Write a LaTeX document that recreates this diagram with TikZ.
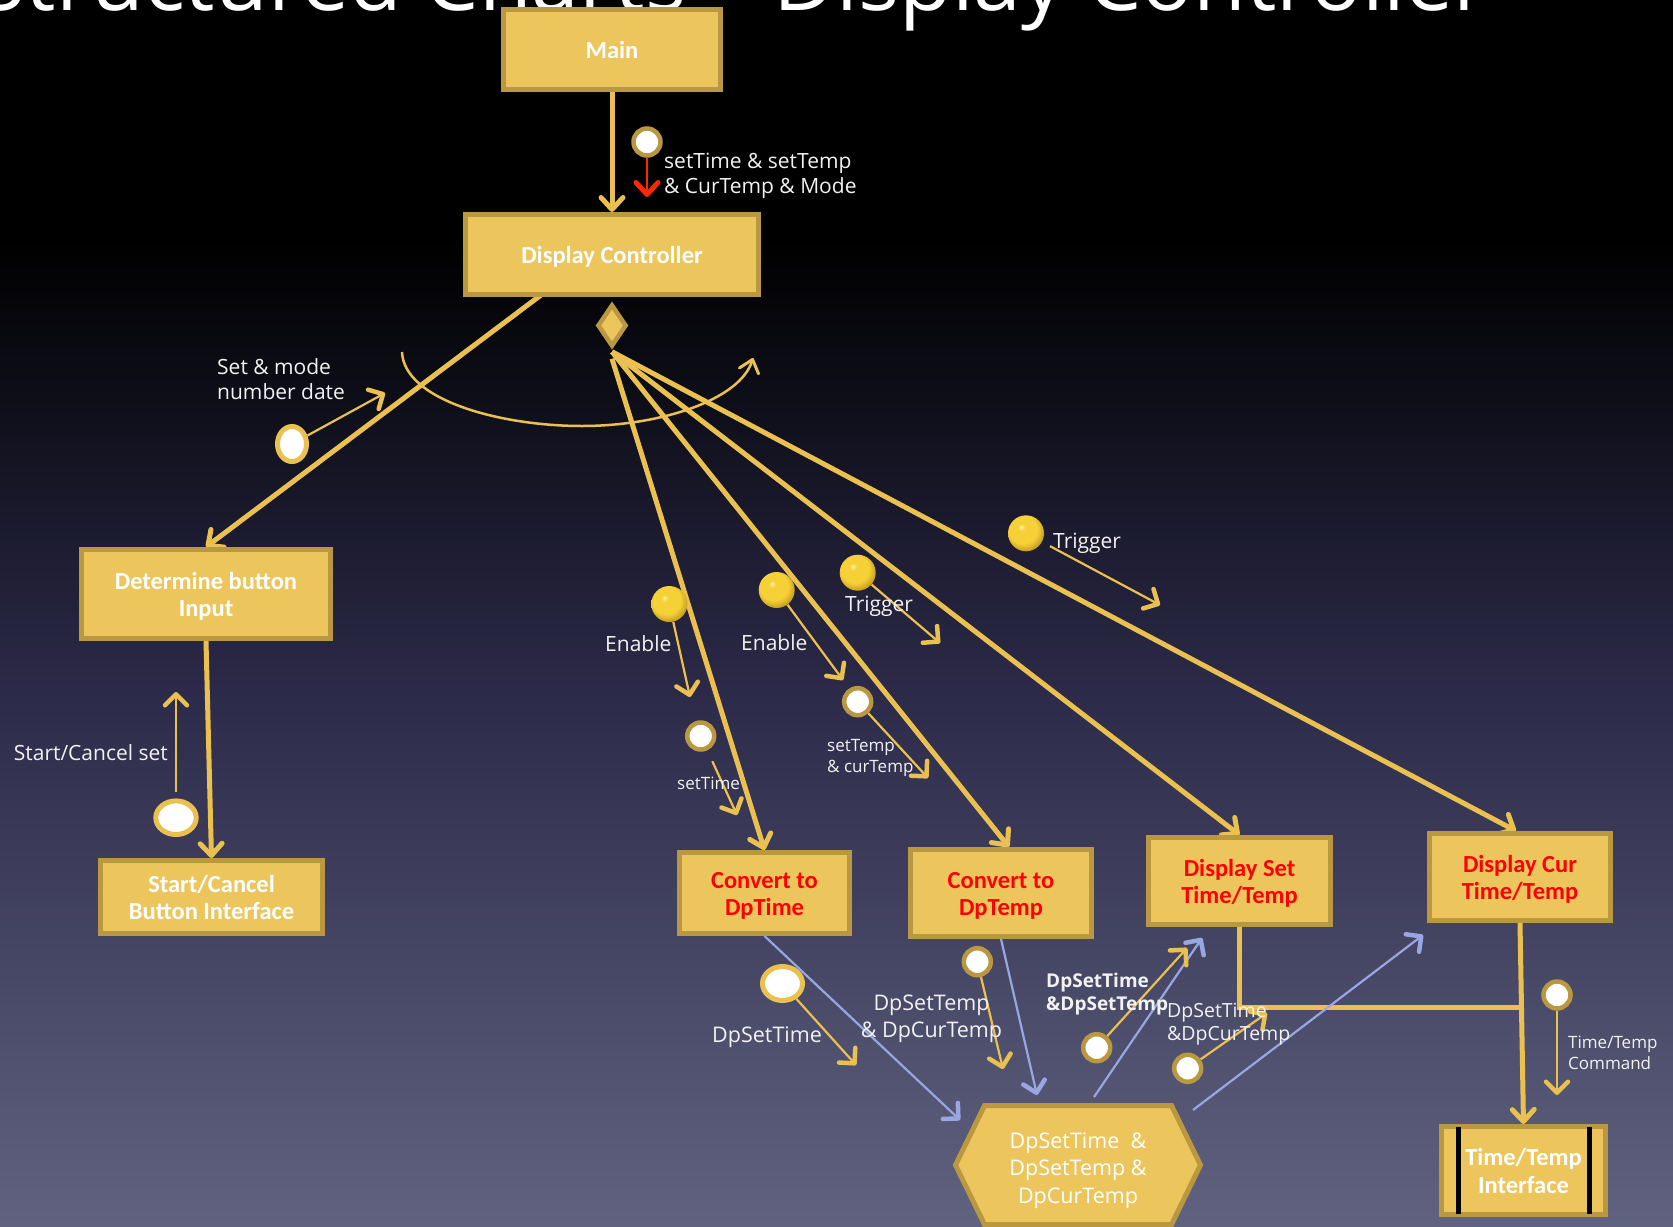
\documentclass[tikz,border=0pt]{standalone}
\usepackage{fontspec}
\setmainfont{Open Sans}
\newfontfamily\boxfont{Carlito}
\usetikzlibrary{arrows.meta,calc,shapes.geometric,shapes.symbols}

\definecolor{boxfill}{RGB}{236,198,92}
\definecolor{boxline}{RGB}{185,152,65}
\definecolor{gold}{RGB}{234,193,80}
\definecolor{lav}{RGB}{152,166,226}
\definecolor{flowred}{RGB}{255,40,0}
\definecolor{labelwhite}{RGB}{242,242,242}
\definecolor{bgA}{RGB}{0,0,0}
\definecolor{bgB}{RGB}{18,18,32}
\definecolor{bgC}{RGB}{45,43,74}
\definecolor{bgD}{RGB}{96,99,128}
\definecolor{ballhi}{RGB}{255,244,170}
\definecolor{ballmid}{RGB}{245,208,55}
\definecolor{balldark}{RGB}{190,150,25}

\pgfdeclareradialshading{goldball}{\pgfqpoint{-7bp}{9bp}}{color(0bp)=(ballhi); color(5bp)=(ballmid); color(20bp)=(ballmid); color(30bp)=(balldark); color(50bp)=(balldark)}

% line strut for module captions: fixes each caption line to 22.75pt above and 4.75pt below its baseline
\newcommand\bxs{\rule[-4.75pt]{0pt}{27.5pt}}

\pgfdeclarelayer{backdrop}
\pgfdeclarelayer{wires}
\pgfsetlayers{backdrop,wires,main}

\tikzset{
  box/.style={rectangle, draw=boxline, fill=boxfill, line width=5pt, text=white,
    inner sep=0pt, align=center, font=\boxfont\bfseries\fontsize{24.5}{27.5}\selectfont},
  redbox/.style={box, text=red},
  bigflow/.style={draw=gold, line width=5pt, -{Straight Barb[length=12pt,width=22pt,round]}},
  plainwire/.style={draw=gold, line width=5pt},
  flow/.style={draw=gold, line width=2.2pt, -{Straight Barb[line width=4.5pt,length=11pt,width=22pt,round]}},
  redflow/.style={draw=flowred, line width=2pt, -{Straight Barb[line width=5pt,length=12pt,width=22pt,round]}},
  lavflow/.style={draw=lav, line width=2.2pt, -{Straight Barb[line width=4.5pt,length=11pt,width=22pt,round]}},
  goldsphere/.style={circle, minimum size=36pt, inner sep=0pt, shading=goldball},
  dcircle/.style={circle, draw=boxline, line width=4.5pt, fill=white, minimum size=27pt, inner sep=0pt},
  doval/.style={ellipse, draw=gold, line width=5pt, fill=white, inner sep=0pt},
  lab/.style={text=labelwhite, inner sep=0pt, align=left, font=\fontsize{21}{25.5}\selectfont},
  smalllab/.style={text=labelwhite, inner sep=0pt, align=left, font=\fontsize{17}{21}\selectfont},
}

\begin{document}
\begin{tikzpicture}[x=1pt,y=-1pt]
\useasboundingbox (0,0) rectangle (1673,1226);

% backdrop: black sky fading to slate
\begin{pgfonlayer}{backdrop}
  \fill[bgA] (0,0) rectangle (1673,240);
  \shade[top color=bgA, bottom color=bgB] (0,239.5) rectangle (1673,440.5);
  \shade[top color=bgB, bottom color=bgC] (0,440) rectangle (1673,700.5);
  \shade[top color=bgC, bottom color=bgD] (0,700) rectangle (1673,1226);
  \node[anchor=base east, text=white, inner sep=0pt, font=\fontsize{86}{100}\selectfont] (title) at (1489,10) {Structured Charts – Display Controller};
\end{pgfonlayer}

% modules
\node[box, minimum width=217pt, minimum height=80pt] (main) at (612,49.5) {\bxs Main};
\node[box, minimum width=293pt, minimum height=80pt] (dc) at (612,254.5) {\bxs Display Controller};
\node[box, minimum width=249pt, minimum height=89pt] (det) at (206,594) {\bxs Determine button\\\bxs Input};
\node[box, minimum width=222pt, minimum height=73pt] (sc) at (211.5,897) {\bxs Start/Cancel\\\bxs Button Interface};
\node[redbox, minimum width=170pt, minimum height=81pt] (ctime) at (764.5,893) {\bxs Convert to\\\bxs DpTime};
\node[redbox, minimum width=181pt, minimum height=87pt] (ctemp) at (1001,893) {\bxs Convert to\\\bxs DpTemp};
\node[redbox, minimum width=182pt, minimum height=87pt] (dset) at (1239.5,881) {\bxs Display Set\\\bxs Time/Temp};
\node[redbox, minimum width=181pt, minimum height=87pt] (dcur) at (1520,877) {\bxs Display Cur\\\bxs Time/Temp};
\node[box, minimum width=164pt, minimum height=88pt] (tti) at (1523.5,1170.5) {\bxs Time/Temp\\\bxs Interface};
\draw[black, line width=5pt] ($(tti.center)+(-65.5,-43.5)$) -- ($(tti.center)+(-65.5,43.5)$);
\draw[black, line width=5pt] ($(tti.center)+(65.5,-43.5)$) -- ($(tti.center)+(65.5,43.5)$);

% selection diamond
\node[diamond, draw=boxline, fill=boxfill, line width=4.5pt, minimum width=29pt, minimum height=42pt, aspect=0.69, inner sep=0pt] (dia) at (612,325.5) {};

% shared data store
\node[signal, signal to=east and west, signal pointer angle=128, draw=boxline, fill=boxfill, line width=5pt,
      minimum width=245pt, minimum height=119pt, inner sep=0pt, align=center, text=white,
      font=\fontsize{21.5}{27.5}\selectfont] (hex) at (1078,1165) {\rule{0pt}{27pt}DpSetTime\ \ \&\\DpSetTemp \&\\DpCurTemp};

% couples: data (open) and control (filled)
\node[dcircle] (cmain) at (647,142) {};
\node[doval, minimum width=29pt, minimum height=35pt] (osm) at (292,444) {};
\node[doval, minimum width=40.4pt, minimum height=33.6pt] (osc) at (176,817.7) {};
\node[goldsphere] (en1) at (669.3,604) {};
\node[dcircle] (cst) at (700.7,736) {};
\node[goldsphere] (en2) at (776.7,590) {};
\node[dcircle] (cstc) at (857.7,701.7) {};
\node[goldsphere] (tr1) at (857.7,572.7) {};
\node[goldsphere] (tr2) at (1026,533.3) {};
\node[doval, minimum width=40pt, minimum height=34pt] (odst) at (782.5,983.5) {};
\node[dcircle] (cdstc) at (977.3,961.7) {};
\node[dcircle] (cdsst) at (1096.7,1047.7) {};
\node[dcircle] (cdsct) at (1187.7,1068.3) {};
\node[dcircle] (cttc) at (1557,995) {};

% free ends of couple arrows
\coordinate (e_red) at (647,197);
\coordinate (e_sm) at (385,393);
\coordinate (e_sc) at (176,692);
\coordinate (e_en1) at (690,697);
\coordinate (e_st) at (737,815);
\coordinate (e_en2) at (843,680);
\coordinate (e_stc) at (928,778);
\coordinate (e_tr1) at (940,643);
\coordinate (e_tr2) at (1160,605);
\coordinate (e_dst) at (856,1065);
\coordinate (e_dstc) at (1003,1069);
\coordinate (e_dsst) at (1187,948);
\coordinate (e_dsct) at (1267,1013);
\coordinate (e_ttc) at (1557,1095);
\coordinate (jn) at (1521,1007);
\coordinate (l1e) at (960,1120);
\coordinate (l2e) at (1037,1095);
\coordinate (l3s) at (1094,1097);
\coordinate (l3e) at (1202,938);
\coordinate (l4s) at (1193,1110);
\coordinate (l4e) at (1423,935);
\coordinate (arcA) at (402,352);
\coordinate (arcB) at (582,426);
\coordinate (arcC) at (753,358);

% labels
\node[lab, anchor=west] (lmain) at (664,176) {setTime \& setTemp\\\& CurTemp \& Mode};
\node[lab, anchor=west] (lsm) at (217,379) {Set \& mode\\number date};
\node[lab, anchor=east] (lsc) at (168,753) {Start/Cancel set};
\node[lab, anchor=west] (len1) at (605,644) {Enable};
\node[smalllab, anchor=west] (lst) at (677,783) {setTime};
\node[lab, anchor=west] (len2) at (741,643) {Enable};
\node[smalllab, anchor=west] (lstc) at (827,757.5) {setTemp\\\& curTemp};
\node[lab, anchor=west] (ltr1) at (845,606) {Trigger};
\node[lab, anchor=west] (ltr2) at (1053,543) {Trigger};
\node[lab, anchor=west, font=\fontsize{21.5}{26}\selectfont] (ldst) at (712,1037) {DpSetTime};
\node[lab, align=center, font=\fontsize{21.5}{26.5}\selectfont] (ldstc) at (931.5,1019) {DpSetTemp\\\& DpCurTemp};
\node[lab, anchor=west, font=\bfseries\fontsize{19}{23.5}\selectfont] (ldsst) at (1046,994) {DpSetTime\\\&DpSetTemp};
\node[lab, anchor=west, font=\fontsize{19.5}{23}\selectfont] (ldsct) at (1167,1024) {DpSetTime\\\&DpCurTemp};
\node[smalllab, anchor=west] (lttc) at (1568,1053) {Time/Temp\\Command};

% connectors
\begin{pgfonlayer}{wires}
  \draw[bigflow] (main.south) -- (dc.north);
  \draw[bigflow] ($(dc.south)+(-71,-2)$) -- (det.north);
  \draw[bigflow] (det.south) -- (sc.north);
  \draw[bigflow] ($(dia.south)+(0,10)$) -- (ctime.north);
  \draw[bigflow] ($(dia.south)+(0,3)$) -- ($(ctemp.north)+(8,0)$);
  \draw[bigflow] ($(dia.south)+(0,3)$) -- (dset.north);
  \draw[bigflow] ($(dia.south)+(0,3)$) -- ($(dcur.north)+(-4,0)$);
  \draw[bigflow] (dcur.south) -- (tti.north);
  \draw[plainwire] (dset.south) |- (jn);

  % iteration loop
  \draw[gold, line width=2.5pt, -{Straight Barb[line width=3pt,length=12pt,width=20pt,round]}]
    (arcA) .. controls (404,400) and (500,426) .. (arcB) .. controls (660,426) and (740,400) .. (arcC);

  % flows into and out of the data store
  \draw[lavflow] (ctime.south) -- (l1e);
  \draw[lavflow] (ctemp.south) -- (l2e);
  \draw[lavflow] (l3s) -- (l3e);
  \draw[lavflow] (l4s) -- (l4e);

  % couple arrows
  \draw[redflow] (cmain.south) -- (e_red);
  \draw[flow] (osm) -- (e_sm);
  \draw[flow, shorten <=6pt] (osc.north) -- (e_sc);
  \draw[flow] (en1) -- (e_en1);
  \draw[flow, shorten <=12pt] (cst) -- (e_st);
  \draw[flow] (en2) -- (e_en2);
  \draw[flow] (cstc) -- (e_stc);
  \draw[flow] (tr1) -- (e_tr1);
  \draw[flow, shorten <=9pt] (tr2) -- (e_tr2);
  \draw[flow] (odst) -- (e_dst);
  \draw[flow] (cdstc) -- (e_dstc);
  \draw[flow] (cdsst) -- (e_dsst);
  \draw[flow] (cdsct) -- (e_dsct);
  \draw[flow] (cttc) -- (e_ttc);
\end{pgfonlayer}
\end{tikzpicture}
\end{document}
